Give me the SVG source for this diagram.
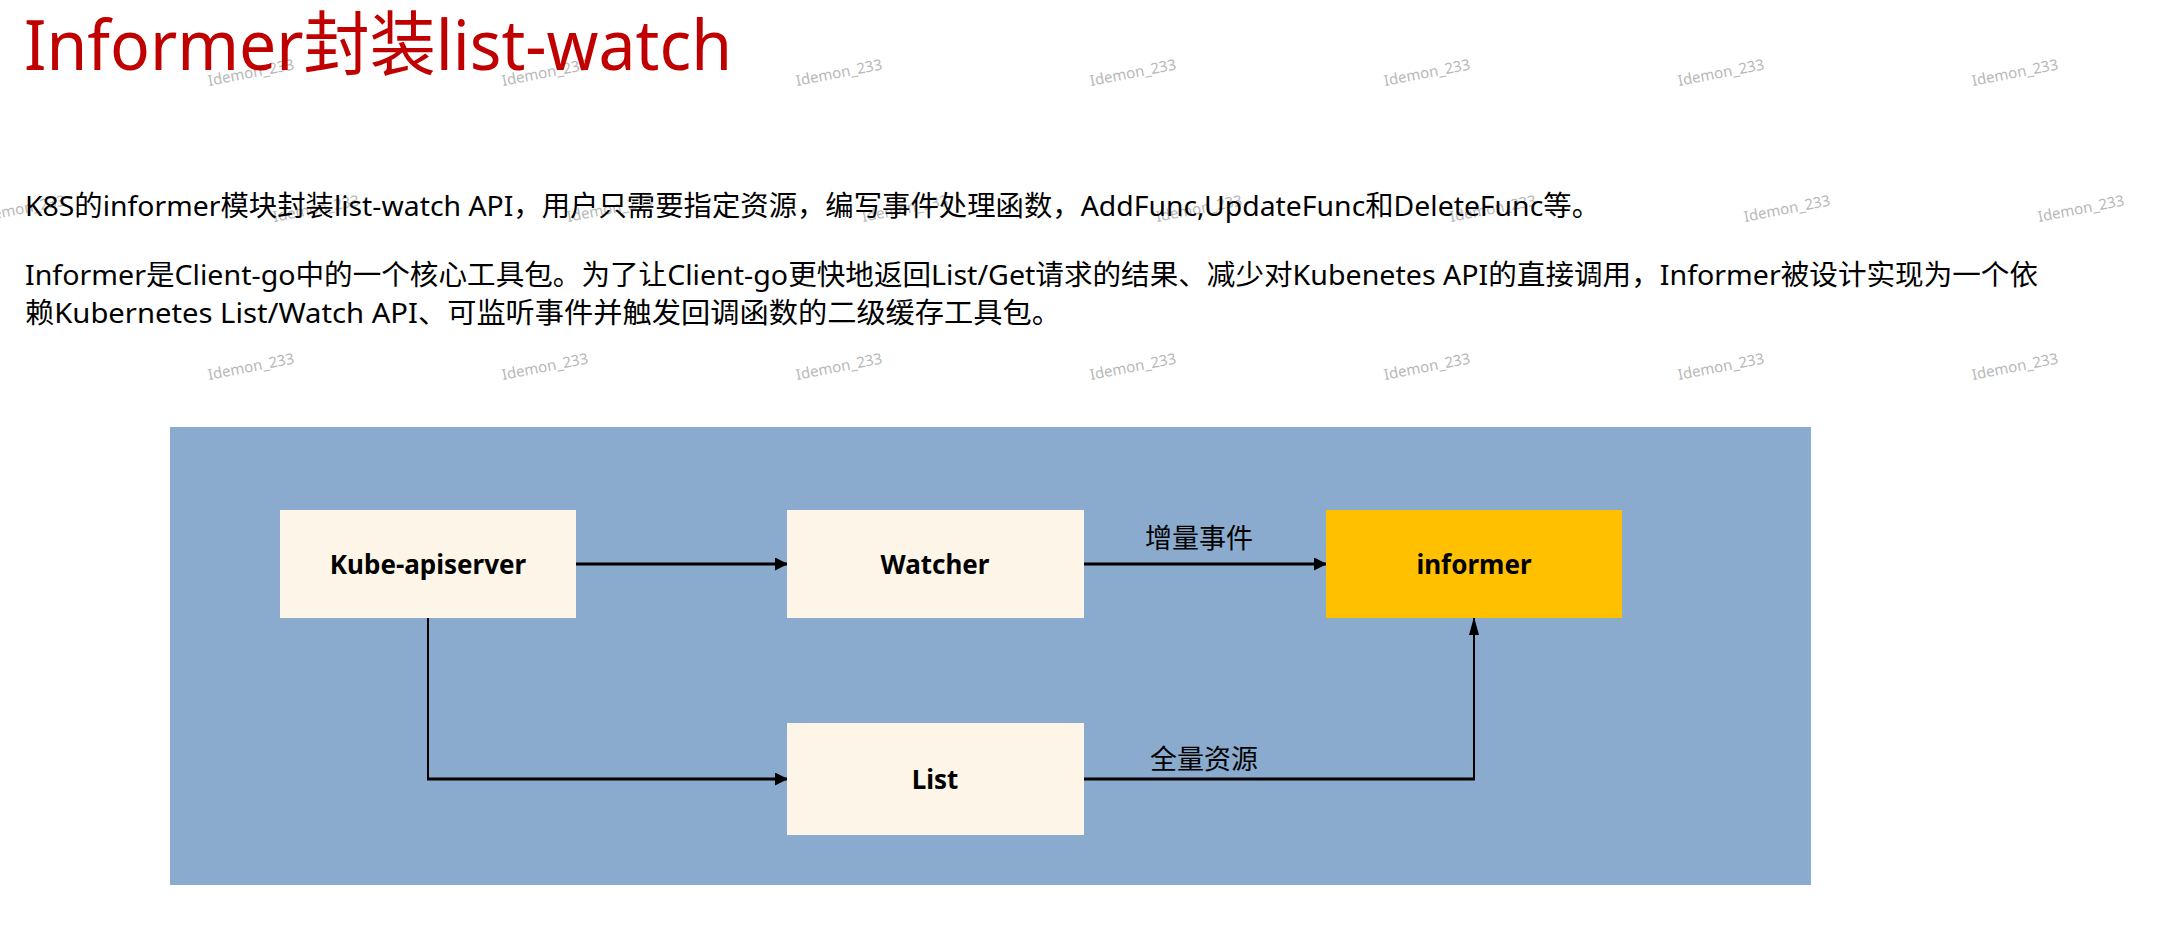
<svg xmlns="http://www.w3.org/2000/svg" width="2181" height="933" viewBox="0 0 2181 933">
  <style>
    .title { font-family: "Noto Sans", "Noto Sans CJK SC", sans-serif; font-size: 70px; fill: #C00000; }
    .body { font-family: "Noto Sans", "Noto Sans CJK SC", sans-serif; font-size: 28px; fill: #000; }
    .wm { font-family: "Noto Sans", "Liberation Sans", sans-serif; font-size: 15px; fill: #b8b8b8; }
    .node-text { font-family: "Noto Sans", "Noto Sans CJK SC", sans-serif; font-size: 26px; font-weight: bold; fill: #000; text-anchor: middle; }
    .edge-label { font-family: "Noto Sans CJK SC", sans-serif; font-size: 27px; fill: #000; text-anchor: middle; }
    .cream { fill: #FDF5E7; }
    .gold { fill: #FFC000; }
    .line { fill: none; stroke: #000; }
  </style>
  <defs>
    <marker id="arrow" markerWidth="13" markerHeight="13" refX="12" refY="6.5" orient="auto" markerUnits="userSpaceOnUse">
      <path d="M0,0 L13,6.5 L0,13 Z" fill="#000"/>
    </marker>
    <marker id="arrow-narrow" markerWidth="18" markerHeight="10" refX="17" refY="5" orient="auto" markerUnits="userSpaceOnUse">
      <path d="M0,0 L18,5 L0,10 Z" fill="#000"/>
    </marker>
  </defs>

  <rect width="2181" height="933" fill="#fff"/>

  <!-- watermark layer -->
  <g id="watermarks" class="wm">
    <text transform="translate(209,86) rotate(-11)">Idemon_233</text>
    <text transform="translate(503,86) rotate(-11)">Idemon_233</text>
    <text transform="translate(797,86) rotate(-11)">Idemon_233</text>
    <text transform="translate(1091,86) rotate(-11)">Idemon_233</text>
    <text transform="translate(1385,86) rotate(-11)">Idemon_233</text>
    <text transform="translate(1679,86) rotate(-11)">Idemon_233</text>
    <text transform="translate(1973,86) rotate(-11)">Idemon_233</text>

    <text transform="translate(-20,222) rotate(-11)">Idemon_233</text>
    <text transform="translate(274,222) rotate(-11)">Idemon_233</text>
    <text transform="translate(568,222) rotate(-11)">Idemon_233</text>
    <text transform="translate(863,222) rotate(-11)">Idemon_233</text>
    <text transform="translate(1157,222) rotate(-11)">Idemon_233</text>
    <text transform="translate(1451,222) rotate(-11)">Idemon_233</text>
    <text transform="translate(1745,222) rotate(-11)">Idemon_233</text>
    <text transform="translate(2039,222) rotate(-11)">Idemon_233</text>

    <text transform="translate(209,380) rotate(-11)">Idemon_233</text>
    <text transform="translate(503,380) rotate(-11)">Idemon_233</text>
    <text transform="translate(797,380) rotate(-11)">Idemon_233</text>
    <text transform="translate(1091,380) rotate(-11)">Idemon_233</text>
    <text transform="translate(1385,380) rotate(-11)">Idemon_233</text>
    <text transform="translate(1679,380) rotate(-11)">Idemon_233</text>
    <text transform="translate(1973,380) rotate(-11)">Idemon_233</text>
  </g>

  <text class="title" x="24" y="70" textLength="708" lengthAdjust="spacingAndGlyphs">Informer封装list-watch</text>

  <g id="description" class="body">
    <text x="25" y="216" textLength="1575" lengthAdjust="spacingAndGlyphs">K8S的informer模块封装list-watch API，用户只需要指定资源，编写事件处理函数，AddFunc,UpdateFunc和DeleteFunc等。</text>
    <text x="25" y="285" textLength="2013" lengthAdjust="spacingAndGlyphs">Informer是Client-go中的一个核心工具包。为了让Client-go更快地返回List/Get请求的结果、减少对Kubenetes API的直接调用，Informer被设计实现为一个依</text>
    <text x="25" y="323" textLength="1036" lengthAdjust="spacingAndGlyphs">赖Kubernetes List/Watch API、可监听事件并触发回调函数的二级缓存工具包。</text>
  </g>

  <!-- diagram panel -->
  <rect id="panel" x="170" y="427" width="1641" height="458" fill="#8AABCE"/>

  <g id="connectors">
    <line class="line" stroke-width="3" x1="576" y1="564" x2="787" y2="564" marker-end="url(#arrow)"/>
    <line class="line" stroke-width="3" x1="1084" y1="564" x2="1326" y2="564" marker-end="url(#arrow)"/>
    <text class="edge-label" x="1199" y="548">增量事件</text>
    <path class="line" stroke-width="2" d="M428,618 V779"/>
    <line class="line" stroke-width="3" x1="427" y1="779" x2="787" y2="779" marker-end="url(#arrow)"/>
    <line class="line" stroke-width="3" x1="1084" y1="779" x2="1475" y2="779"/>
    <path class="line" stroke-width="2" d="M1474,780 V618" marker-end="url(#arrow-narrow)"/>
    <text class="edge-label" x="1204" y="769">全量资源</text>
  </g>

  <g id="kube-apiserver">
    <rect class="cream" x="280" y="510" width="296" height="108"/>
    <text class="node-text" x="428" y="574">Kube-apiserver</text>
  </g>
  <g id="watcher">
    <rect class="cream" x="787" y="510" width="297" height="108"/>
    <text class="node-text" x="935" y="574">Watcher</text>
  </g>
  <g id="informer">
    <rect class="gold" x="1326" y="510" width="296" height="108"/>
    <text class="node-text" x="1474" y="574">informer</text>
  </g>
  <g id="list">
    <rect class="cream" x="787" y="723" width="297" height="112"/>
    <text class="node-text" x="935" y="789">List</text>
  </g>
</svg>
